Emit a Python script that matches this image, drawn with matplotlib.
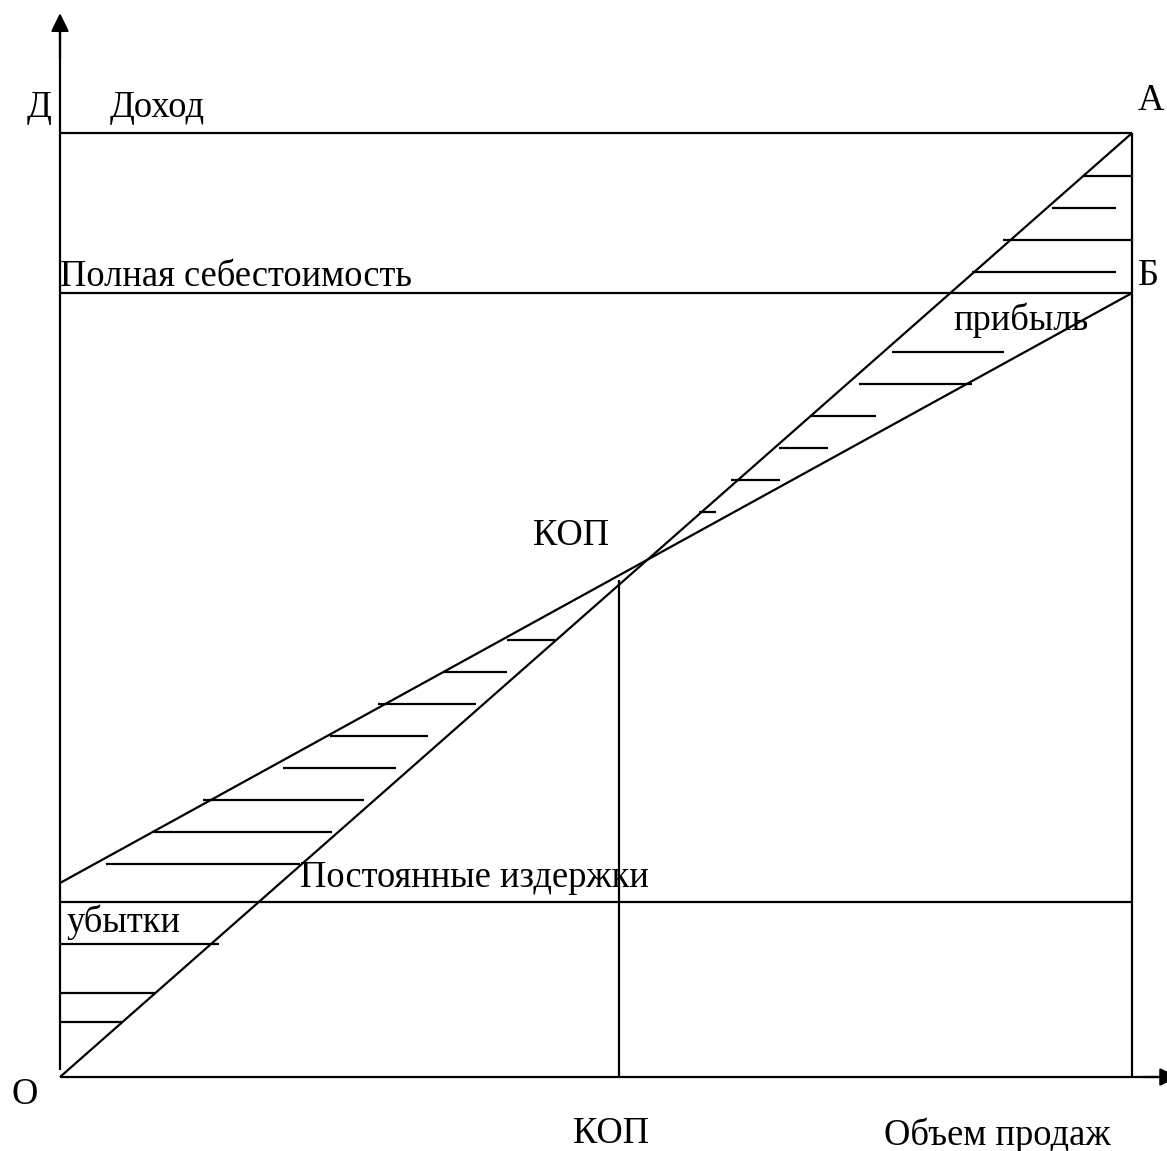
import matplotlib
matplotlib.use("Agg")
import matplotlib.pyplot as plt

plt.rcParams['font.family'] = ['Liberation Serif', 'DejaVu Serif']

# ---- data (volume units 0..100, money units 0..100) ----
revenue_x = [0, 100]
revenue_y = [0, 100]
cost_x = [0, 100]
cost_y = [20.55, 83.05]
max_revenue = 100.0
full_cost = 83.05
fixed_cost = 18.54
max_volume = 100.0
bep_volume = 52.15
bep_top = 52.6

# hatching: (money level, volume start, volume end)
loss_hatch_y = [46.29, 42.90, 39.51, 36.12, 32.73, 29.34, 25.95, 22.56, 14.09, 8.90, 5.83]
loss_hatch_x0 = [41.70, 35.73, 29.66, 25.19, 20.80, 13.34, 8.77, 4.29, 0.0, 0.0, 0.0]
loss_hatch_x1 = [46.18, 41.70, 38.81, 34.33, 31.34, 28.36, 25.37, 22.39, 14.83, 8.86, 5.78]

profit_hatch_y = [95.44, 92.06, 88.67, 85.28, 76.80, 73.41, 70.02, 66.63, 63.24, 59.85]
profit_hatch_x0 = [95.43, 92.54, 87.97, 85.07, 77.61, 74.53, 69.96, 67.07, 62.59, 59.61]
profit_hatch_x1 = [100.0, 98.51, 100.0, 98.51, 88.06, 85.07, 76.12, 71.64, 67.16, 61.19]

fig = plt.figure(figsize=(11.67, 11.51), dpi=100)
ax = fig.add_axes([0, 0, 1, 1])
ax.set_xlim(-5.597, 103.26)
ax.set_ylim(-7.839, 114.09)
ax.axis('off')

lw = 1.6
k = dict(color='black', lw=lw, solid_capstyle='butt')

# axes with arrows
ax.plot([0, 0], [0.7, 111.0], **k)
ax.annotate('', xy=(0, 112.7), xytext=(0, 108),
            arrowprops=dict(arrowstyle='-|>,head_length=0.55,head_width=0.27',
                            mutation_scale=20, color='black', lw=lw, shrinkA=0, shrinkB=0))
ax.plot([0, 103.5], [0, 0], **k)
ax.annotate('', xy=(104.3, 0), xytext=(101, 0),
            arrowprops=dict(arrowstyle='-|>,head_length=0.55,head_width=0.27',
                            mutation_scale=20, color='black', lw=lw, shrinkA=0, shrinkB=0),
            annotation_clip=False)

# main lines
ax.plot(revenue_x, revenue_y, **k)
ax.plot(cost_x, cost_y, **k)
ax.plot([0, max_volume], [max_revenue, max_revenue], **k)
ax.plot([0, max_volume], [full_cost, full_cost], **k)
ax.plot([0, max_volume], [fixed_cost, fixed_cost], **k)
ax.plot([max_volume, max_volume], [0, max_revenue], **k)
ax.plot([bep_volume, bep_volume], [0, bep_top], **k)

# hatching
for y, a, b in zip(loss_hatch_y, loss_hatch_x0, loss_hatch_x1):
    ax.plot([a, b], [y, y], **k)
for y, a, b in zip(profit_hatch_y, profit_hatch_x0, profit_hatch_x1):
    ax.plot([a, b], [y, y], **k)

fs = 26.3
t = dict(fontsize=fs, ha='left', va='baseline', color='black')
ax.text(-3.08, 101.7, 'Д', **t)
ax.text(4.66, 101.7, 'Доход', **t)
ax.text(100.56, 102.4, 'А', **t)
ax.text(0.0, 83.8, 'Полная себестоимость', **t)
ax.text(100.56, 83.9, 'Б', **t)
ax.text(83.3, 79.1, 'прибыль', **t)
ax.text(44.1, 56.4, 'КОП', **t)
ax.text(22.39, 20.1, 'Постоянные издержки', **t)
ax.text(0.65, 15.4, 'убытки', **t)
ax.text(-4.48, -2.86, 'О', **t)
ax.text(47.85, -7.0, 'КОП', **t)
ax.text(76.87, -7.2, 'Объем продаж', **t)

fig.savefig('out.png', dpi=100)
